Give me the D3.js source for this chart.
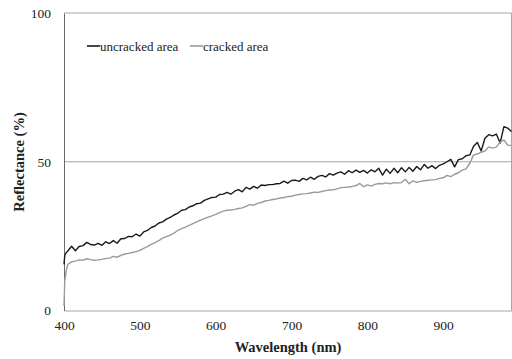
<!DOCTYPE html>
<html><head><meta charset="utf-8">
<script src="https://cdn.jsdelivr.net/npm/d3@7"></script>
<style>html,body{margin:0;padding:0;background:#fff;}svg{display:block;}</style>
</head><body>
<svg id="c" width="512" height="359"></svg>
<script>
const wavelengths = [400,401,403,405,410,415,420,425,430,435,440,445,450,455,460,465,470,475,480,485,490,495,
500,505,510,515,520,525,530,535,540,545,550,555,560,565,570,575,580,585,590,595,
600,605,610,615,620,625,630,635,640,645,650,655,660,665,670,675,680,685,690,695,
700,705,710,715,720,725,730,735,740,745,750,755,760,765,770,775,780,785,790,795,
800,805,810,815,820,825,830,835,840,845,850,855,860,865,870,875,880,885,890,895,
900,905,910,915,920,925,930,935,940,945,950,955,960,965,970,975,980,985,990];
const uncracked = [15.5,18.5,19.5,20.0,21.6,20.1,21.5,21.8,22.9,22.2,22.0,22.6,21.9,23.1,22.5,23.5,22.6,24.1,24.2,24.9,24.8,25.7,
25.0,26.4,26.9,27.9,28.4,29.4,29.8,30.7,31.3,32.1,32.7,33.7,33.9,34.8,35.2,35.9,36.1,37.0,37.5,38.0,
38.1,39.0,39.1,39.7,39.1,40.1,40.6,39.9,41.4,40.8,41.7,41.1,42.2,42.0,42.3,42.3,42.6,42.7,43.5,42.8,
43.7,43.8,43.4,44.4,43.9,44.8,44.1,45.1,45.4,44.9,46.0,45.5,46.2,46.6,45.8,47.0,46.3,47.2,46.4,47.1,
46.2,47.3,46.6,47.8,45.5,47.5,46.1,47.8,46.3,48.0,46.6,48.1,46.8,48.4,47.3,49.1,47.8,48.7,47.7,48.8,
49.3,50.0,50.8,48.3,50.7,51.0,52.0,52.3,55.2,56.5,53.6,57.9,59.1,58.7,59.3,56.3,61.8,61.3,60.2];
const cracked = [1.5,10.0,13.5,15.5,16.4,16.6,17.0,16.9,17.4,17.1,16.9,17.0,17.2,17.5,17.6,18.2,17.9,18.5,19.0,19.2,19.5,19.8,
20.2,20.9,21.5,22.2,22.8,23.5,24.3,24.8,25.3,26.0,26.9,27.5,28.0,28.6,29.2,29.8,30.4,30.9,31.4,31.8,
32.3,32.9,33.4,33.7,33.8,34.0,34.3,34.5,35.0,35.6,35.4,36.0,36.3,36.8,37.0,37.3,37.5,37.8,38.0,38.3,
38.4,38.8,39.0,39.2,39.3,39.5,39.8,39.7,40.0,40.3,40.5,40.6,40.9,41.3,41.4,41.5,41.7,42.0,42.7,41.6,
42.2,41.8,42.4,42.7,42.6,42.9,42.6,43.0,42.8,43.0,44.1,42.6,43.6,43.1,43.4,43.6,43.8,43.9,44.0,44.4,
44.6,45.4,45.0,45.8,46.3,47.2,47.6,49.5,52.3,52.6,53.2,53.6,55.0,54.6,54.9,56.7,57.3,55.6,55.5];
const xTicks = [400,500,600,700,800,900];
const yTicks = [0,50,100];
const seriesNames = ["uncracked area","cracked area"];
const seriesColors = ["#1a1a1a","#9a9a9a"];

const FONT = "Liberation Serif";
const svg = d3.select("#c");
const L = 64, R = 511.5, T = 13, B = 310.5;
const x = d3.scaleLinear().domain([400, 990]).range([L, R]);
const y = d3.scaleLinear().domain([0, 100]).range([B, T]);

svg.append("line").attr("x1", L).attr("x2", R).attr("y1", y(50)).attr("y2", y(50))
  .attr("stroke", "#a6a6a6").attr("stroke-width", 1);
svg.append("line").attr("x1", L).attr("x2", R).attr("y1", T).attr("y2", T).attr("stroke", "#a6a6a6");
svg.append("line").attr("x1", R).attr("x2", R).attr("y1", T).attr("y2", B).attr("stroke", "#a6a6a6");

const xAxis = d3.axisBottom(x).tickValues(xTicks).tickSize(0).tickPadding(10);
const gx = svg.append("g").attr("transform", `translate(0,${B})`).call(xAxis);
gx.attr("font-family", FONT);
gx.select(".domain").attr("stroke", "#a6a6a6");
gx.selectAll("text").style("font-family", FONT).attr("font-size", 13.5).attr("fill", "#222");

const yAxis = d3.axisLeft(y).tickValues(yTicks).tickSize(0).tickPadding(13);
const gy = svg.append("g").attr("transform", `translate(${L},0)`).call(yAxis);
gy.attr("font-family", FONT);
gy.select(".domain").attr("stroke", "#6a6a6a");
gy.selectAll("text").style("font-family", FONT).attr("font-size", 13.5).attr("fill", "#222");

const line = d3.line().x((d, i) => x(wavelengths[i])).y(d => y(d));
[uncracked, cracked].forEach((s, k) => {
  svg.append("path").datum(s).attr("d", line).attr("fill", "none")
    .attr("stroke", seriesColors[k]).attr("stroke-width", 1.4).attr("stroke-linejoin", "round");
});

const legX = [87, 190];
seriesNames.forEach((n, k) => {
  svg.append("line").attr("x1", legX[k]).attr("x2", legX[k] + 13).attr("y1", 46).attr("y2", 46)
    .attr("stroke", seriesColors[k]).attr("stroke-width", 1.6);
  svg.append("text").attr("x", legX[k] + 13).attr("y", 50.5).text(n)
    .style("font-family", FONT).attr("font-size", 13).attr("fill", "#222");
});

svg.append("text").attr("x", 288).attr("y", 352).attr("text-anchor", "middle")
  .style("font-family", FONT).attr("font-weight", "bold").attr("font-size", 14.5).attr("fill", "#222")
  .text("Wavelength (nm)");
svg.append("text").attr("transform", "translate(24,162) rotate(-90)").attr("text-anchor", "middle")
  .style("font-family", FONT).attr("font-weight", "bold").attr("font-size", 14.5).attr("fill", "#222")
  .text("Reflectance (%)");
</script>
</body></html>
